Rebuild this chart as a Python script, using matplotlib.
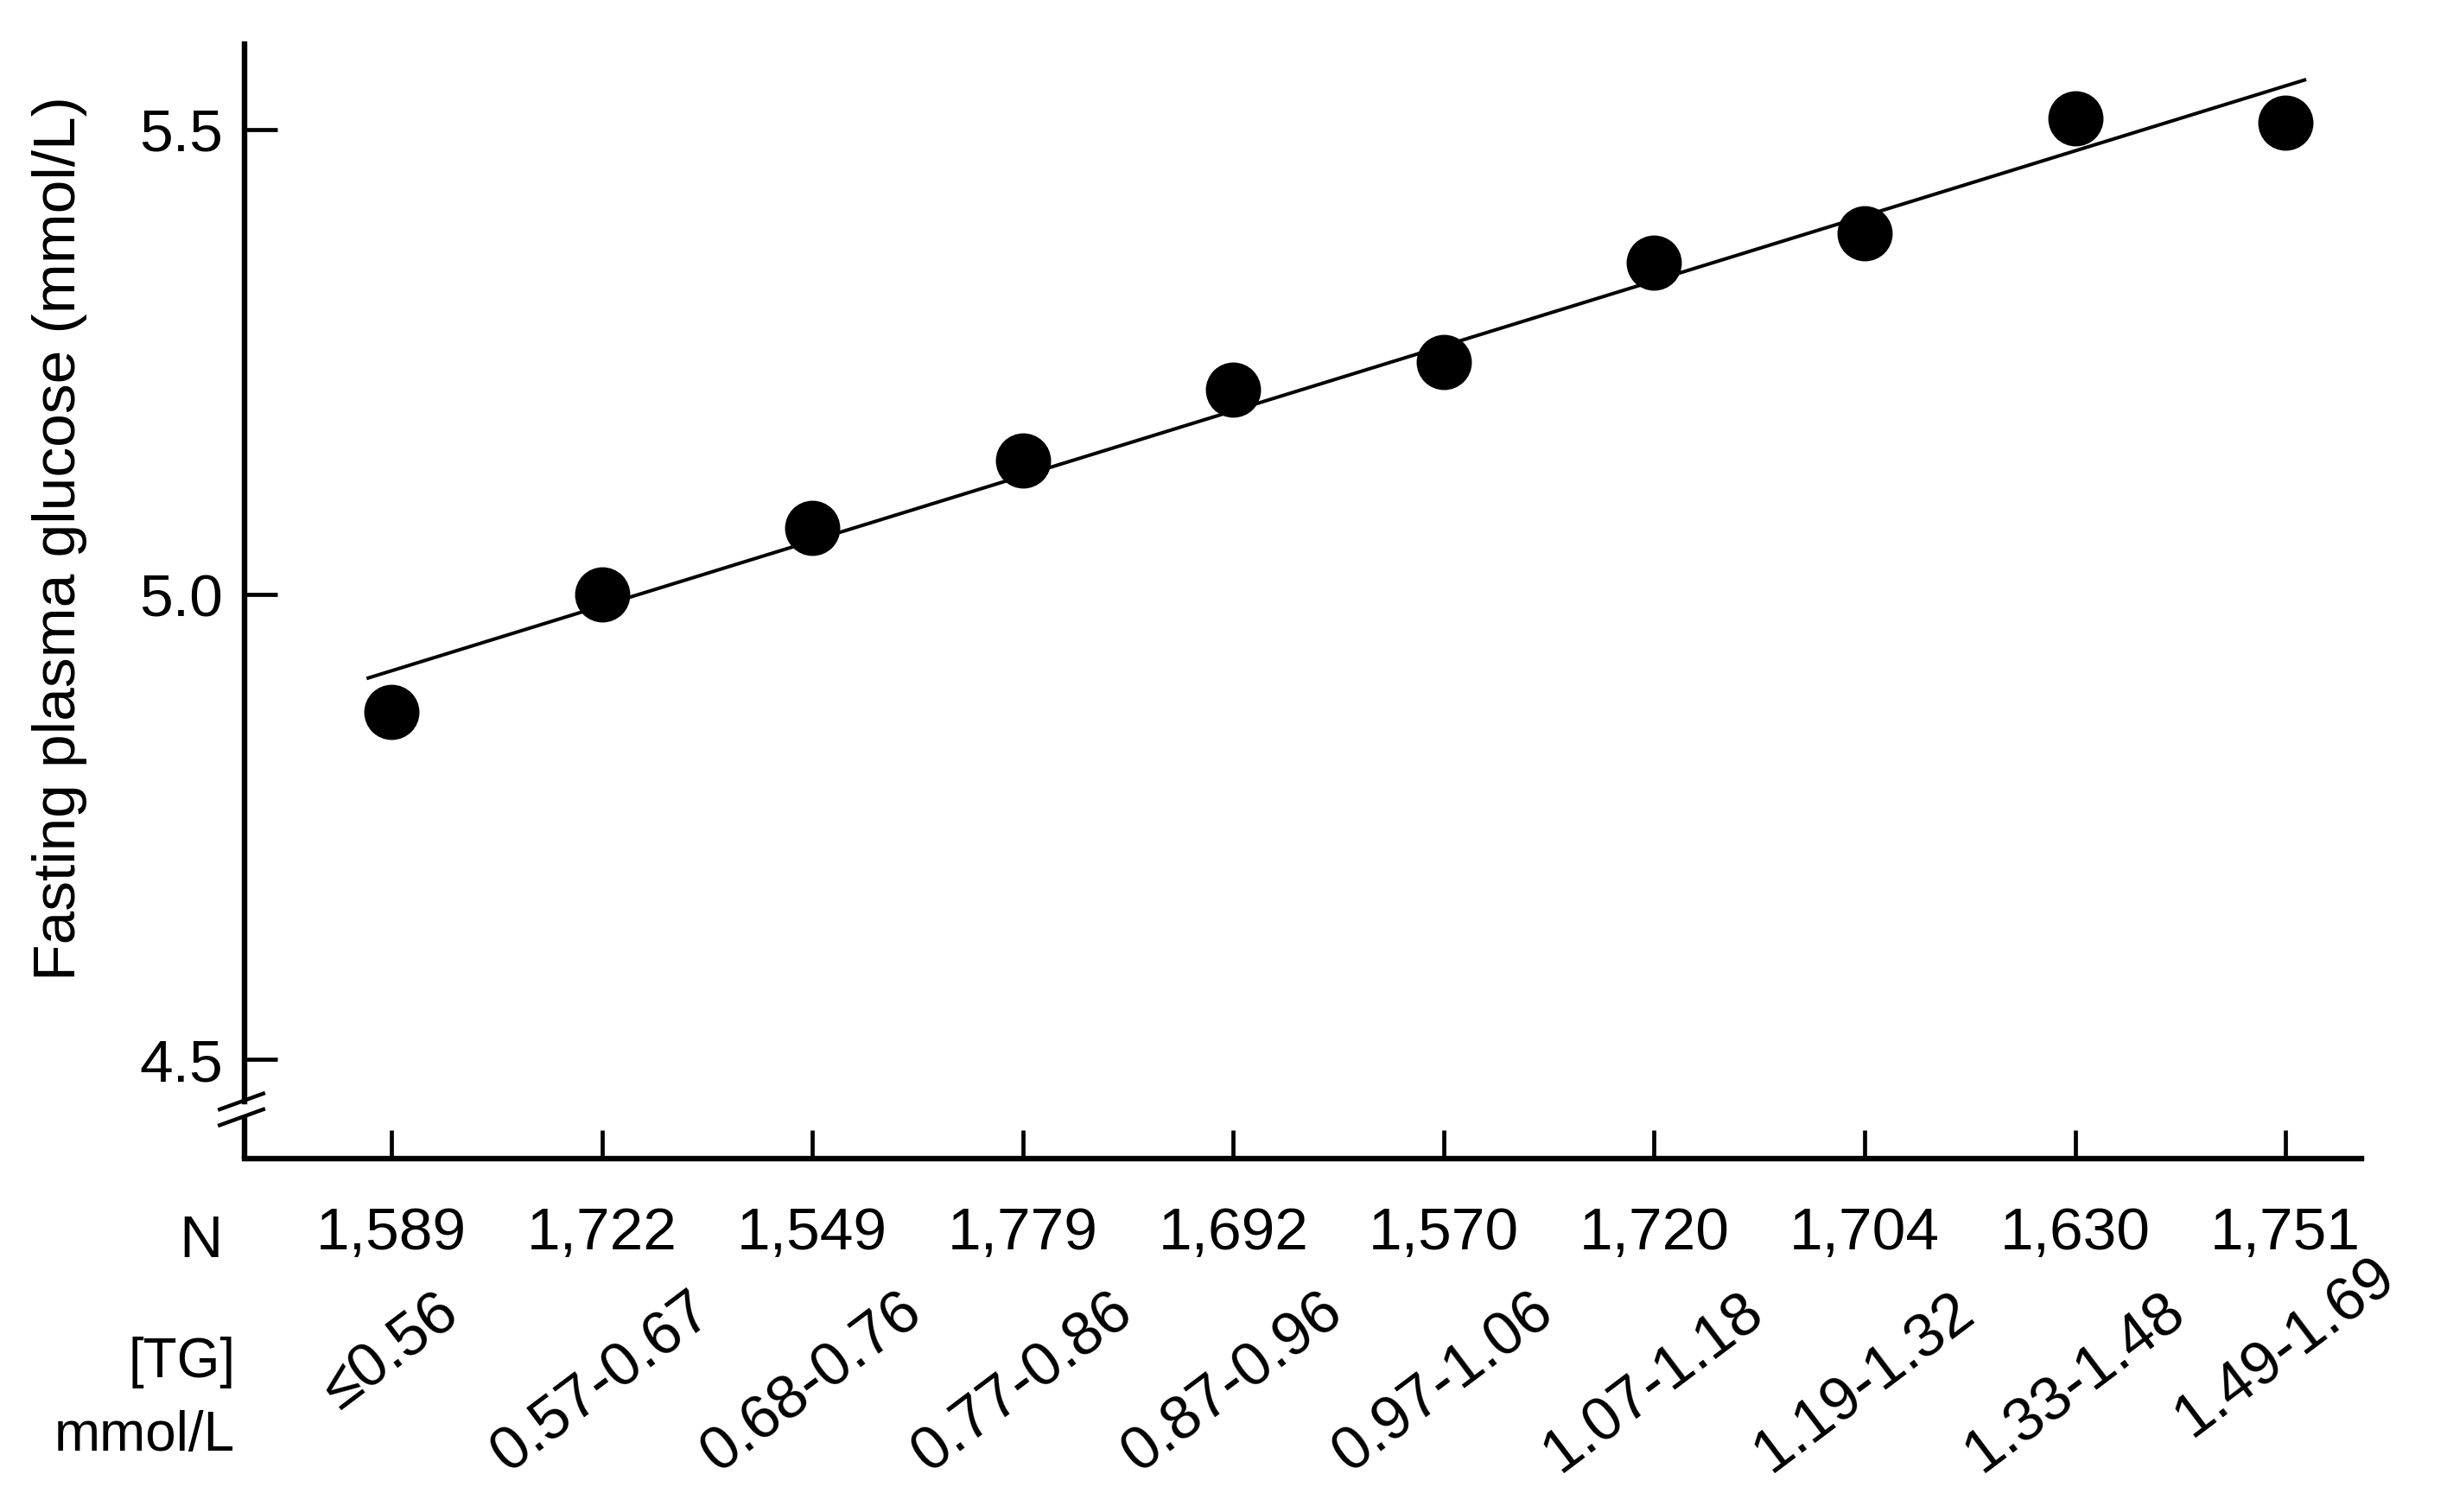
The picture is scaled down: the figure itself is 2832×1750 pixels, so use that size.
import numpy as np
import matplotlib
matplotlib.use('Agg')
import matplotlib.pyplot as plt
import matplotlib.transforms as mtransforms

plt.rcParams['font.family'] = ['Liberation Sans', 'DejaVu Sans']

# data
n_counts = ['1,589', '1,722', '1,549', '1,779', '1,692',
            '1,570', '1,720', '1,704', '1,630', '1,751']
tg_groups = ['≤0.56', '0.57-0.67', '0.68-0.76', '0.77-0.86', '0.87-0.96',
             '0.97-1.06', '1.07-1.18', '1.19-1.32', '1.33-1.48', '1.49-1.69']
glucose = [4.874, 5.000, 5.072, 5.144, 5.220,
           5.250, 5.357, 5.388, 5.512, 5.507]

x = np.arange(len(glucose))

fig = plt.figure(figsize=(28.32, 17.5), dpi=100)
ax = fig.add_axes([0.100, 0.234, 0.865, 0.737])

ax.plot(x, glucose, 'o', color='black', markersize=45, zorder=3)

# regression line
slope, intercept = np.polyfit(x, glucose, 1)
xl = np.array([-0.11, 9.09])
ax.plot(xl, intercept + slope * xl, color='black', lw=2.9, zorder=2)

ax.set_xlim(-0.697, 9.36)
ax.set_ylim(4.394, 5.592)

for s in ['top', 'right']:
    ax.spines[s].set_visible(False)
for s in ['left', 'bottom']:
    ax.spines[s].set_linewidth(4.6)
ax.spines['left'].set_bounds(4.455, 5.592)

# axis break
trans = mtransforms.blended_transform_factory(ax.transAxes, ax.transData)
ax.plot([0, 0], [4.394, 4.438], color='black', lw=4.6,
        transform=trans, clip_on=False, solid_capstyle='butt')
for yc in [4.455, 4.438]:
    ax.plot([-0.0118, 0.0088], [yc - 0.0085, yc + 0.0085], color='black',
            lw=3.2, transform=trans, clip_on=False)

ax.set_yticks([4.5, 5.0, 5.5])
ax.set_yticklabels(['4.5', '5.0', '5.5'])
ax.set_xticks(x)
ax.set_xticklabels(n_counts)
ax.tick_params(axis='both', direction='in', width=3.4, labelsize=50)
ax.tick_params(axis='x', pad=40, length=24)
ax.tick_params(axis='y', pad=18, length=27)

ax.text(-0.0103, -0.075, 'N', transform=ax.transAxes, ha='right',
        va='center', fontsize=50)
ax.text(-0.0044, -0.183, '[TG]', transform=ax.transAxes, ha='right',
        va='center', fontsize=46)
ax.text(-0.0044, -0.249, 'mmol/L', transform=ax.transAxes, ha='right',
        va='center', fontsize=46)

# rotated TG labels, the last one sits a bit higher in the original
trans_x = mtransforms.blended_transform_factory(ax.transData, ax.transAxes)
for xi, lab in zip(x, tg_groups):
    ytop = -0.112 if xi < len(x) - 1 else -0.080
    ax.text(xi, ytop, lab, transform=trans_x, ha='center', va='top',
            rotation=37, fontsize=51)

fig.text(0.0242, 0.644, 'Fasting plasma glucose (mmol/L)', rotation=90,
         ha='center', va='center', fontsize=50)

fig.savefig('out.png', dpi=100)
